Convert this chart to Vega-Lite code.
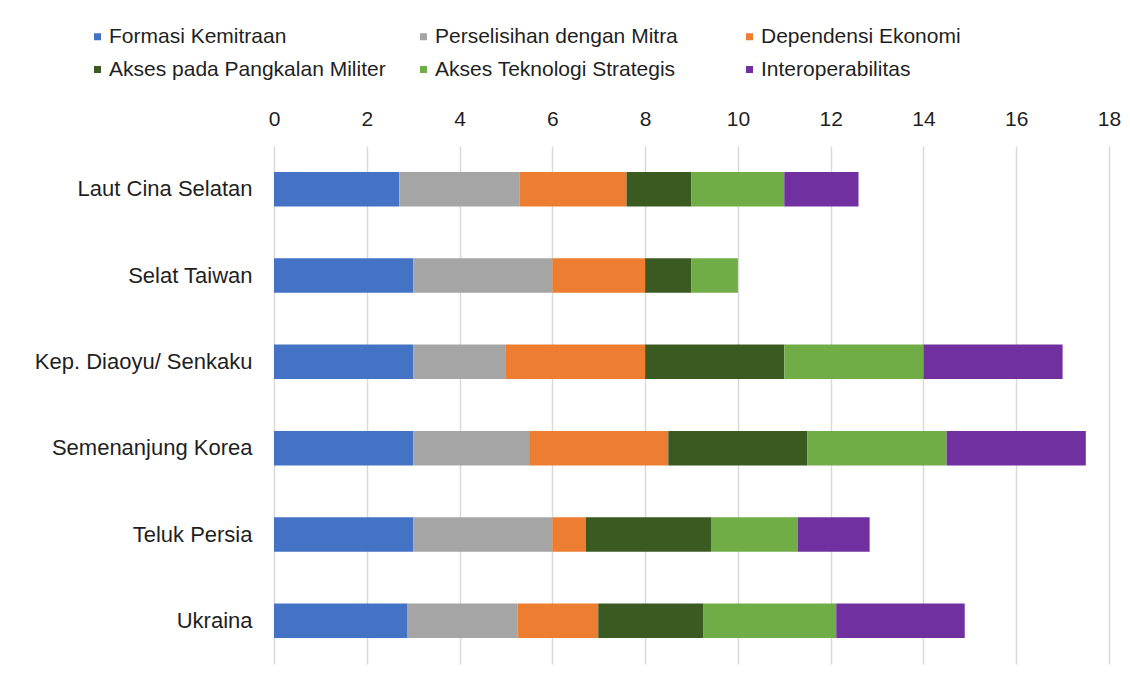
{
  "$schema": "https://vega.github.io/schema/vega-lite/v6.json",
  "autosize": {"type": "none"},
  "width": 835,
  "height": 518,
  "padding": {"left": 274, "top": 146, "right": 21, "bottom": 15},
  "background": "white",
  "data": {
    "values": [
      {"wilayah": "Laut Cina Selatan", "faktor": "Formasi Kemitraan", "no": 1, "nilai": 2.7},
      {"wilayah": "Laut Cina Selatan", "faktor": "Perselisihan dengan Mitra", "no": 2, "nilai": 2.6},
      {"wilayah": "Laut Cina Selatan", "faktor": "Dependensi Ekonomi", "no": 3, "nilai": 2.3},
      {"wilayah": "Laut Cina Selatan", "faktor": "Akses pada Pangkalan Militer", "no": 4, "nilai": 1.4},
      {"wilayah": "Laut Cina Selatan", "faktor": "Akses Teknologi Strategis", "no": 5, "nilai": 2.0},
      {"wilayah": "Laut Cina Selatan", "faktor": "Interoperabilitas", "no": 6, "nilai": 1.6},
      {"wilayah": "Selat Taiwan", "faktor": "Formasi Kemitraan", "no": 1, "nilai": 3},
      {"wilayah": "Selat Taiwan", "faktor": "Perselisihan dengan Mitra", "no": 2, "nilai": 3},
      {"wilayah": "Selat Taiwan", "faktor": "Dependensi Ekonomi", "no": 3, "nilai": 2},
      {"wilayah": "Selat Taiwan", "faktor": "Akses pada Pangkalan Militer", "no": 4, "nilai": 1},
      {"wilayah": "Selat Taiwan", "faktor": "Akses Teknologi Strategis", "no": 5, "nilai": 1},
      {"wilayah": "Selat Taiwan", "faktor": "Interoperabilitas", "no": 6, "nilai": 0},
      {"wilayah": "Kep. Diaoyu/ Senkaku", "faktor": "Formasi Kemitraan", "no": 1, "nilai": 3},
      {"wilayah": "Kep. Diaoyu/ Senkaku", "faktor": "Perselisihan dengan Mitra", "no": 2, "nilai": 2},
      {"wilayah": "Kep. Diaoyu/ Senkaku", "faktor": "Dependensi Ekonomi", "no": 3, "nilai": 3},
      {"wilayah": "Kep. Diaoyu/ Senkaku", "faktor": "Akses pada Pangkalan Militer", "no": 4, "nilai": 3},
      {"wilayah": "Kep. Diaoyu/ Senkaku", "faktor": "Akses Teknologi Strategis", "no": 5, "nilai": 3},
      {"wilayah": "Kep. Diaoyu/ Senkaku", "faktor": "Interoperabilitas", "no": 6, "nilai": 3},
      {"wilayah": "Semenanjung Korea", "faktor": "Formasi Kemitraan", "no": 1, "nilai": 3},
      {"wilayah": "Semenanjung Korea", "faktor": "Perselisihan dengan Mitra", "no": 2, "nilai": 2.5},
      {"wilayah": "Semenanjung Korea", "faktor": "Dependensi Ekonomi", "no": 3, "nilai": 3},
      {"wilayah": "Semenanjung Korea", "faktor": "Akses pada Pangkalan Militer", "no": 4, "nilai": 3},
      {"wilayah": "Semenanjung Korea", "faktor": "Akses Teknologi Strategis", "no": 5, "nilai": 3},
      {"wilayah": "Semenanjung Korea", "faktor": "Interoperabilitas", "no": 6, "nilai": 3},
      {"wilayah": "Teluk Persia", "faktor": "Formasi Kemitraan", "no": 1, "nilai": 3},
      {"wilayah": "Teluk Persia", "faktor": "Perselisihan dengan Mitra", "no": 2, "nilai": 3},
      {"wilayah": "Teluk Persia", "faktor": "Dependensi Ekonomi", "no": 3, "nilai": 0.72},
      {"wilayah": "Teluk Persia", "faktor": "Akses pada Pangkalan Militer", "no": 4, "nilai": 2.7},
      {"wilayah": "Teluk Persia", "faktor": "Akses Teknologi Strategis", "no": 5, "nilai": 1.87},
      {"wilayah": "Teluk Persia", "faktor": "Interoperabilitas", "no": 6, "nilai": 1.55},
      {"wilayah": "Ukraina", "faktor": "Formasi Kemitraan", "no": 1, "nilai": 2.88},
      {"wilayah": "Ukraina", "faktor": "Perselisihan dengan Mitra", "no": 2, "nilai": 2.37},
      {"wilayah": "Ukraina", "faktor": "Dependensi Ekonomi", "no": 3, "nilai": 1.74},
      {"wilayah": "Ukraina", "faktor": "Akses pada Pangkalan Militer", "no": 4, "nilai": 2.27},
      {"wilayah": "Ukraina", "faktor": "Akses Teknologi Strategis", "no": 5, "nilai": 2.86},
      {"wilayah": "Ukraina", "faktor": "Interoperabilitas", "no": 6, "nilai": 2.77}
    ]
  },
  "mark": {"type": "bar", "stroke": null},
  "encoding": {
    "y": {
      "field": "wilayah",
      "type": "nominal",
      "sort": ["Laut Cina Selatan", "Selat Taiwan", "Kep. Diaoyu/ Senkaku", "Semenanjung Korea", "Teluk Persia", "Ukraina"],
      "scale": {"paddingInner": 0.6, "paddingOuter": 0.3},
      "axis": {
        "title": null,
        "domain": false,
        "ticks": false,
        "tickSize": 0,
        "labelPadding": 22,
        "labelFont": "Liberation Sans",
        "labelFontSize": 22,
        "labelColor": "#1f1f1f",
        "labelLimit": 400
      }
    },
    "x": {
      "field": "nilai",
      "type": "quantitative",
      "stack": "zero",
      "scale": {"domain": [0, 18], "nice": false},
      "axis": {
        "orient": "top",
        "title": null,
        "values": [0, 2, 4, 6, 8, 10, 12, 14, 16, 18],
        "domain": false,
        "ticks": false,
        "tickSize": 0,
        "labelPadding": 17,
        "labelFont": "Liberation Sans",
        "labelFontSize": 21,
        "labelColor": "#1f1f1f",
        "labelFlush": false,
        "grid": true,
        "gridColor": "#d9d9d9",
        "gridWidth": 1.5
      }
    },
    "color": {
      "field": "faktor",
      "type": "nominal",
      "scale": {
        "domain": ["Formasi Kemitraan", "Perselisihan dengan Mitra", "Dependensi Ekonomi", "Akses pada Pangkalan Militer", "Akses Teknologi Strategis", "Interoperabilitas"],
        "range": ["#4472C4", "#A5A5A5", "#ED7D31", "#3A5A22", "#70AD47", "#7030A0"]
      },
      "legend": {
        "title": null,
        "orient": "none",
        "legendX": -187,
        "legendY": -120,
        "direction": "horizontal",
        "columns": 3,
        "gridAlign": "all",
        "columnPadding": 27,
        "rowPadding": 11,
        "symbolType": "square",
        "symbolSize": 49,
        "symbolStrokeWidth": 0,
        "labelOffset": 1,
        "labelFont": "Liberation Sans",
        "labelFontSize": 21,
        "labelColor": "#1f1f1f",
        "labelLimit": 400
      }
    },
    "order": {"field": "no", "type": "quantitative"}
  },
  "config": {
    "view": {"stroke": null}
  }
}
